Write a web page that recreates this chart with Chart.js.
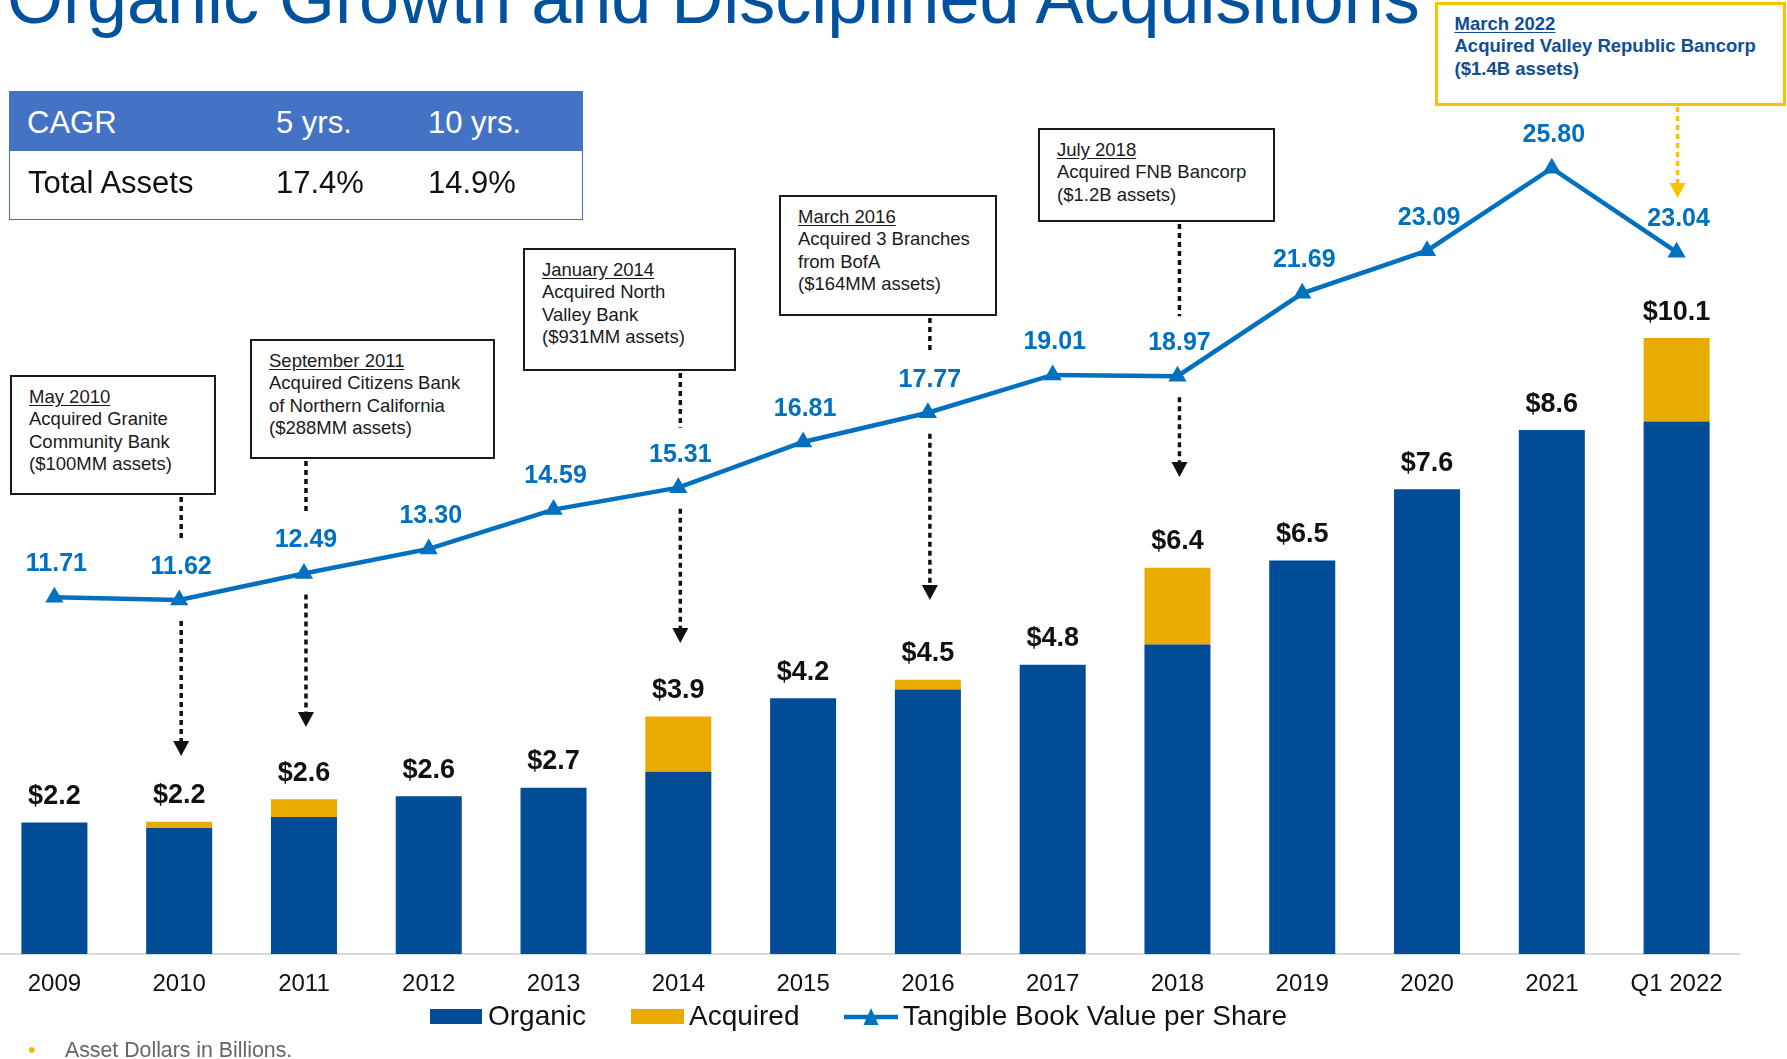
<!DOCTYPE html>
<html>
<head>
<meta charset="utf-8">
<script src="https://cdn.jsdelivr.net/npm/chart.js@4.4.1/dist/chart.umd.min.js"></script>
<style>
  body { margin:0; width:1787px; height:1059px; overflow:hidden; background:#fff; position:relative;
         font-family:"Liberation Sans", Arial, sans-serif; }
  #chart { position:absolute; left:-8px; top:0; width:1795px; height:1059px; }
  .abs { position:absolute; white-space:nowrap; z-index:2; }
  .title { left:7px; top:-38px; font-size:72px; line-height:72px; color:#00519e; }
  .cagr { left:9px; top:91px; width:574px; height:129px; box-sizing:border-box; border:1.5px solid #4472c4; }
  .cagr .head { position:absolute; left:0; top:0; right:0; height:59px; background:#4472c4; }
  .t { font-size:31px; line-height:30px; }
  .note { box-sizing:border-box; border:2px solid #1a1a1a; background:#fff; padding:8.7px 0 0 17px;
          font-size:18.5px; line-height:22.6px; color:#1a1a1a; }
  .note u { text-underline-offset:2px; }
  .note.gold { border:3.5px solid #ffc000; padding:7.5px 0 0 16.5px; font-weight:bold; color:#124d94; }
  .sw { height:15px; top:1009px; }
  .lg { font-size:28px; line-height:28px; top:1002px; color:#111; }
  .foot { font-size:21.3px; line-height:21px; top:1040px; color:#666; }
</style>
</head>
<body>
<canvas id="chart" width="1795" height="1059"></canvas>

<div class="abs title">Organic Growth and Disciplined Acquisitions</div>

<div class="abs cagr"><div class="head"></div></div>
<div class="abs t" style="left:27px;top:108px;color:#fff">CAGR</div>
<div class="abs t" style="left:276px;top:108px;color:#fff">5 yrs.</div>
<div class="abs t" style="left:428px;top:108px;color:#fff">10 yrs.</div>
<div class="abs t" style="left:28px;top:168px;color:#111">Total Assets</div>
<div class="abs t" style="left:276px;top:168px;color:#111">17.4%</div>
<div class="abs t" style="left:428px;top:168px;color:#111">14.9%</div>

<div class="abs note" style="left:10px;top:375px;width:206px;height:120px"><u>May 2010</u><br>Acquired Granite<br>Community Bank<br>($100MM assets)</div>
<div class="abs note" style="left:250px;top:339px;width:245px;height:120px"><u>September 2011</u><br>Acquired Citizens Bank<br>of Northern California<br>($288MM assets)</div>
<div class="abs note" style="left:523px;top:248px;width:213px;height:123px"><u>January 2014</u><br>Acquired North<br>Valley Bank<br>($931MM assets)</div>
<div class="abs note" style="left:779px;top:195px;width:218px;height:121px"><u>March 2016</u><br>Acquired 3 Branches<br>from BofA<br>($164MM assets)</div>
<div class="abs note" style="left:1038px;top:128px;width:237px;height:94px"><u>July 2018</u><br>Acquired FNB Bancorp<br>($1.2B assets)</div>
<div class="abs note gold" style="left:1435px;top:2px;width:351px;height:104px"><u>March 2022</u><br>Acquired Valley Republic Bancorp<br>($1.4B assets)</div>

<!-- legend -->
<div class="abs sw" style="left:430px;width:52px;background:#004c97"></div>
<div class="abs lg" style="left:488px">Organic</div>
<div class="abs sw" style="left:631px;width:53px;background:#eaab00"></div>
<div class="abs lg" style="left:689px">Acquired</div>
<svg class="abs" style="left:844px;top:1007px" width="56" height="20">
  <line x1="0" y1="10" x2="54" y2="10" stroke="#0070c0" stroke-width="4.5"/>
  <polygon points="27,1 34.5,18 19.5,18" fill="#0070c0"/>
</svg>
<div class="abs lg" style="left:903px">Tangible Book Value per Share</div>

<div class="abs foot" style="left:28px;color:#f5b800">•</div>
<div class="abs foot" style="left:65px">Asset Dollars in Billions.</div>

<script>
const years = ["2009", "2010", "2011", "2012", "2013", "2014", "2015", "2016", "2017", "2018", "2019", "2020", "2021", "Q1 2022"];
const organic = [2.16, 2.07, 2.25, 2.59, 2.73, 2.99, 4.20, 4.34, 4.75, 5.08, 6.46, 7.63, 8.60, 8.74];
const acquired = [0, 0.10, 0.29, 0, 0, 0.91, 0, 0.16, 0, 1.26, 0, 0, 0, 1.37];
const assetLabels = ["$2.2", "$2.2", "$2.6", "$2.6", "$2.7", "$3.9", "$4.2", "$4.5", "$4.8", "$6.4", "$6.5", "$7.6", "$8.6", "$10.1"];
const bookValue = [11.71, 11.62, 12.49, 13.30, 14.59, 15.31, 16.81, 17.77, 19.01, 18.97, 21.69, 23.09, 25.80, 23.04];

const FONT = '"Liberation Sans", Arial, sans-serif';
const BAR_MAX = 15.66;   // asset axis
const LINE_MAX = 31.32;  // book value axis (twice the asset axis)

// acquisition callouts: which year they point at, box bottom and arrow tip (page px)
const callouts = [
  { index: 1, from: 495, tip: 756 },
  { index: 2, from: 459, tip: 727 },
  { index: 5, from: 371, tip: 643 },
  { index: 7, from: 316, tip: 600 },
  { index: 9, from: 222, tip: 477 }
];

function dotted(ctx, x, y1, y2, color) {
  ctx.save();
  ctx.strokeStyle = color;
  ctx.lineWidth = 3.5;
  ctx.setLineDash([5, 4]);
  ctx.beginPath();
  ctx.moveTo(x, y1);
  ctx.lineTo(x, y2);
  ctx.stroke();
  ctx.restore();
}

function arrowHead(ctx, x, tip, color) {
  ctx.save();
  ctx.fillStyle = color;
  ctx.beginPath();
  ctx.moveTo(x - 8, tip - 15);
  ctx.lineTo(x + 8, tip - 15);
  ctx.lineTo(x, tip);
  ctx.closePath();
  ctx.fill();
  ctx.restore();
}

// value labels above the bars and the line points
const labelsPlugin = {
  id: "labels",
  afterDatasetsDraw(chart) {
    const ctx = chart.ctx;
    const topBars = chart.getDatasetMeta(1).data;
    const points = chart.getDatasetMeta(2).data;
    ctx.save();
    ctx.textAlign = "center";
    ctx.textBaseline = "middle";
    ctx.font = "bold 27px " + FONT;
    ctx.fillStyle = "#111";
    topBars.forEach((bar, i) => ctx.fillText(assetLabels[i], bar.x, bar.y - 26));
    ctx.font = "bold 25px " + FONT;
    ctx.fillStyle = "#0070c0";
    points.forEach((pt, i) => ctx.fillText(bookValue[i].toFixed(2), pt.x + 2, pt.y - 33));
    ctx.restore();
  }
};

// dotted arrows from the callout boxes
const arrowsPlugin = {
  id: "arrows",
  afterDraw(chart) {
    const ctx = chart.ctx;
    const points = chart.getDatasetMeta(2).data;
    callouts.forEach(c => {
      const pt = points[c.index];
      const x = pt.x + 2;
      dotted(ctx, x, c.from + 2, pt.y - 60, "#111");
      dotted(ctx, x, pt.y + 21, c.tip - 14, "#111");
      arrowHead(ctx, x, c.tip, "#111");
    });
    const last = points[points.length - 1];
    dotted(ctx, last.x + 1, 107, 184, "#ffc000");
    arrowHead(ctx, last.x + 1, 198, "#ffc000");
  }
};

new Chart(document.getElementById("chart"), {
  data: {
    labels: years,
    datasets: [
      {
        type: "bar",
        label: "Organic",
        data: organic,
        backgroundColor: "#004c97",
        yAxisID: "y",
        stack: "assets",
        order: 1,
        barPercentage: 0.529,
        categoryPercentage: 1.0
      },
      {
        type: "bar",
        label: "Acquired",
        data: acquired,
        backgroundColor: "#eaab00",
        yAxisID: "y",
        stack: "assets",
        order: 1,
        barPercentage: 0.529,
        categoryPercentage: 1.0
      },
      {
        type: "line",
        label: "Tangible Book Value per Share",
        data: bookValue,
        yAxisID: "y2",
        borderColor: "#0070c0",
        borderWidth: 4.5,
        pointStyle: "triangle",
        pointRadius: 10.5,
        pointBackgroundColor: "#0070c0",
        pointBorderWidth: 0,
        tension: 0,
        clip: false,
        order: 0
      }
    ]
  },
  options: {
    responsive: false,
    animation: false,
    layout: { autoPadding: false, padding: { left: 0, right: 48, top: 0, bottom: 60 } },
    plugins: { legend: { display: false }, tooltip: { enabled: false } },
    scales: {
      x: {
        stacked: true,
        grid: { display: false, drawTicks: false },
        border: { color: "#d9d9d9", width: 2 },
        ticks: {
          color: "#111",
          font: { family: FONT, size: 24 },
          padding: 16,
          maxRotation: 0,
          autoSkip: false
        },
        afterFit(scale) { scale.height = 45; }
      },
      y: { stacked: true, display: false, min: 0, max: BAR_MAX },
      y2: { display: false, min: 0, max: LINE_MAX }
    }
  },
  plugins: [labelsPlugin, arrowsPlugin]
});
</script>
</body>
</html>
